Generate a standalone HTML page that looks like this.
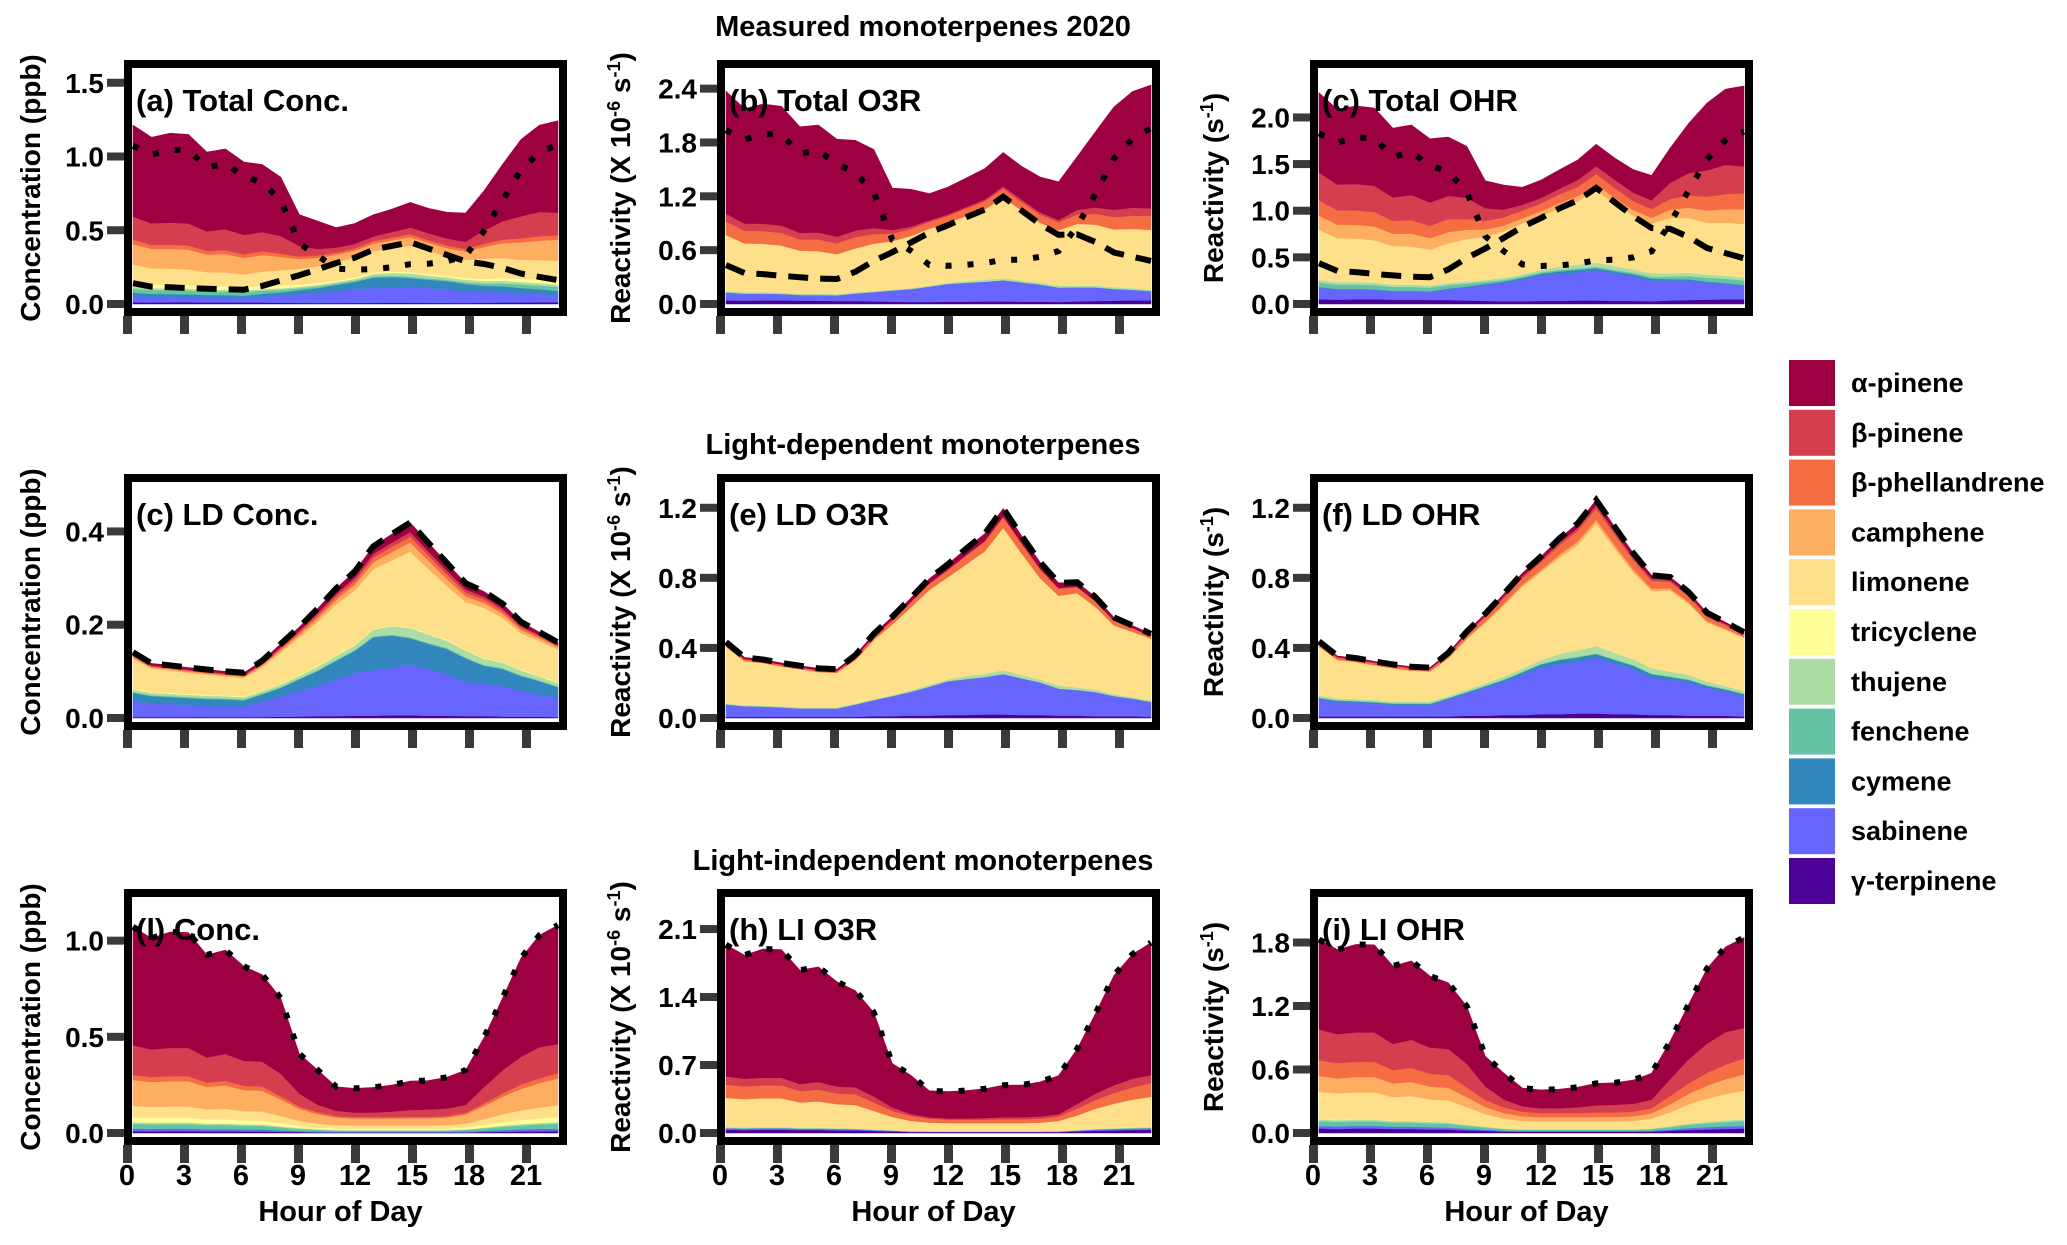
<!DOCTYPE html>
<html><head><meta charset="utf-8"><style>
html,body{margin:0;padding:0;background:#fff;}
svg{display:block;font-family:"Liberation Sans",sans-serif;font-weight:bold;}
</style></head><body>
<svg id="fig" width="2067" height="1245" viewBox="0 0 2067 1245" xmlns="http://www.w3.org/2000/svg"></svg>
<script>
// ---- data ----
const hours = [0,1,2,3,4,5,6,7,8,9,10,11,12,13,14,15,16,17,18,19,20,21,22,23];
const speciesNames = ["γ-terpinene","sabinene","cymene","fenchene","thujene","tricyclene","limonene","camphene","β-phellandrene","β-pinene","α-pinene"];
const speciesColors = ["#4b0096","#6666ff","#3288bd","#66c2a5","#abdda4","#ffff99","#fee08b","#fdae61","#f46d43","#d53e4f","#9e0142"];
// rate factors (conc ppb -> reactivity), same order as speciesNames
const kO3 = [3.4,2.1,0,0.1,1.1,0,5.0,0.02,5.0,0.55,2.2];
const kOH = [4.3,2.9,0.37,1.8,2.1,0.1,4.3,1.1,5.5,1.9,1.38];
// light-dependent concentrations (ppb)
const ldGTerp = [.002,.002,.002,.002,.002,.002,.002,.002,.003,.003,.004,.004,.005,.005,.006,.006,.005,.005,.004,.004,.003,.003,.003,.002];
const ldSabinene = [.034,.029,.028,.026,.023,.023,.023,.034,.044,.055,.065,.079,.092,.098,.102,.110,.100,.089,.074,.070,.066,.055,.048,.041];
const ldCymene = [.018,.016,.015,.015,.016,.015,.013,.015,.018,.025,.032,.040,.047,.070,.069,.055,.054,.054,.050,.038,.036,.032,.028,.023];
const ldFenchene = [.002,.002,.002,.002,.002,.002,.002,.002,.002,.002,.002,.002,.002,.002,.002,.002,.002,.002,.002,.002,.002,.002,.002,.002];
const ldThujene = [.005,.005,.005,.005,.005,.005,.005,.005,.005,.006,.008,.009,.010,.015,.018,.020,.018,.016,.015,.013,.012,.010,.008,.007];
const ldTricyclene = [.0015,.0015,.0015,.0015,.0015,.0015,.0015,.0015,.0015,.0015,.0015,.0015,.0015,.0015,.0015,.0015,.0015,.0015,.0015,.0015,.0015,.0015,.0015,.0015];
const ldLimonene = [.0645,.0505,.0485,.0455,.0435,.0405,.0395,.0495,.0675,.0805,.0945,.1085,.1165,.1275,.1395,.1625,.1385,.1155,.1025,.1075,.0945,.0785,.0745,.0705];
const ldCamphene = [.004,.003,.003,.003,.003,.003,.003,.004,.005,.006,.008,.010,.012,.015,.018,.020,.018,.015,.012,.011,.009,.007,.006,.005];
const ldBPhel = [.003,.002,.002,.002,.002,.002,.002,.003,.004,.005,.006,.007,.008,.010,.011,.012,.011,.010,.008,.007,.006,.005,.004,.003];
const ldBPinene = [.002,.002,.002,.002,.002,.002,.002,.002,.003,.004,.005,.006,.007,.008,.009,.010,.009,.008,.007,.006,.005,.004,.003,.002];
const ldAPinene = [.005,.004,.004,.004,.004,.004,.004,.005,.006,.007,.009,.011,.013,.016,.018,.020,.018,.016,.013,.011,.010,.008,.006,.005];
// light-independent concentrations (ppb)
const liGTerp = [.010,.009,.010,.010,.009,.009,.008,.008,.006,.005,.003,.003,.003,.003,.003,.003,.003,.003,.003,.005,.007,.008,.009,.010];
const liSabinene = [.008,.008,.008,.008,.007,.007,.007,.006,.005,.004,.003,.002,.002,.002,.002,.002,.002,.002,.003,.004,.006,.007,.008,.008];
const liCymene = [.005,.005,.005,.005,.004,.005,.004,.004,.003,.002,.002,.002,.001,.001,.001,.001,.001,.002,.002,.003,.003,.004,.005,.005];
const liFenchene = [.025,.024,.024,.024,.022,.022,.020,.020,.016,.011,.009,.007,.007,.007,.007,.007,.007,.007,.009,.013,.017,.021,.023,.026];
const liThujene = [.008,.008,.008,.008,.007,.007,.007,.006,.005,.004,.003,.002,.002,.002,.002,.002,.002,.002,.003,.004,.006,.007,.008,.008];
const liTricyclene = [.025,.024,.024,.024,.022,.022,.020,.020,.016,.011,.009,.007,.007,.007,.007,.007,.007,.007,.009,.013,.017,.021,.023,.026];
const liLimonene = [.060,.058,.059,.059,.052,.054,.049,.048,.038,.027,.021,.018,.017,.017,.017,.017,.017,.018,.021,.030,.041,.050,.057,.062];
const liCamphene = [.135,.129,.132,.132,.117,.122,.109,.108,.086,.062,.048,.040,.037,.037,.037,.038,.038,.040,.046,.069,.092,.112,.127,.139];
const liBPhel = [.027,.026,.026,.026,.023,.024,.022,.022,.017,.012,.010,.008,.007,.007,.007,.008,.008,.008,.009,.014,.018,.022,.025,.028];
const liBPinene = [.154,.144,.147,.147,.130,.140,.130,.129,.117,.068,.039,.027,.024,.024,.029,.035,.038,.039,.042,.085,.120,.145,.162,.150];
const liAPinene = [.615,.578,.602,.599,.533,.539,.490,.452,.392,.205,.180,.124,.125,.130,.137,.150,.150,.162,.180,.257,.375,.513,.582,.619];
// axis ticks
const ticksA = [0,0.5,1.0,1.5], ticksB = [0,0.6,1.2,1.8,2.4], ticksC = [0,0.5,1.0,1.5,2.0];
const ticksLDc = [0,0.2,0.4], ticksLDr = [0,0.4,0.8,1.2];
const ticksLIc = [0,0.5,1.0], ticksLIo3 = [0,0.7,1.4,2.1], ticksLIoh = [0,0.6,1.2,1.8];
const xTicks = [0,3,6,9,12,15,18,21];

const ldConc = [ldGTerp,ldSabinene,ldCymene,ldFenchene,ldThujene,ldTricyclene,ldLimonene,ldCamphene,ldBPhel,ldBPinene,ldAPinene];
const liConc = [liGTerp,liSabinene,liCymene,liFenchene,liThujene,liTricyclene,liLimonene,liCamphene,liBPhel,liBPinene,liAPinene];

const NS = "http://www.w3.org/2000/svg";
const svg = document.getElementById("fig");
function mk(tag, attrs, parent){
  const e = document.createElementNS(NS, tag);
  for (const k in attrs) e.setAttribute(k, attrs[k]);
  (parent||svg).appendChild(e);
  return e;
}
function scale(set, k){ return set.map((arr,i)=>arr.map(v=>v*k[i])); }
function addSets(a,b){ return a.map((arr,i)=>arr.map((v,j)=>v+b[i][j])); }
function total(set){ return hours.map((h,j)=>set.reduce((s,arr)=>s+arr[j],0)); }

const ldO3 = scale(ldConc,kO3), ldOH = scale(ldConc,kOH);
const liO3 = scale(liConc,kO3), liOH = scale(liConc,kOH);
const totConc = addSets(ldConc,liConc), totO3 = addSets(ldO3,liO3), totOH = addSets(ldOH,liOH);

function fmt(v){ return v.toFixed(1); }

function panel(p){
  const L=p.left, T=p.top, W=443, H=256;
  const iL=L+8, iR=L+W-8, iT=T+8, y0=T+244;
  const g = mk("g",{});
  
  
  const xs = h => iL+1 + h*(iR-iL-2)/23;
  const ys = v => y0 - v*(y0-iT)/p.ymax;
  const clipId = "clip-"+p.name;
  const cp = mk("clipPath",{id:clipId},g);
  mk("rect",{x:iL,y:iT,width:iR-iL,height:T+H-8-iT},cp);
  const dg = mk("g",{"clip-path":"url(#"+clipId+")"},g);
  let base = hours.map(()=>0);
  p.series.forEach((arr,i)=>{
    const top = base.map((b,j)=>b+arr[j]);
    let d = "M"+hours.map((h,j)=>xs(h).toFixed(1)+","+ys(top[j]).toFixed(1)).join("L");
    d += "L"+hours.slice().reverse().map((h)=>xs(h).toFixed(1)+","+ys(base[h]).toFixed(1)).join("L")+"Z";
    const a = mk("path",{d:d,fill:speciesColors[i],stroke:speciesColors[i],"stroke-width":0.6},dg);
    
    
    base = top;
  });
  p.lines.forEach(ln=>{
    const d = "M"+hours.map((h,j)=>xs(h).toFixed(1)+","+ys(ln.vals[j]).toFixed(1)).join("L");
    const l = mk("path",{d:d,fill:"none",stroke:"#000","stroke-width":6,"stroke-dasharray":ln.dash},dg);
    
    
  });
  const fr = mk("rect",{x:L+4,y:T+4,width:W-8,height:H-8,fill:"none",stroke:"#000","stroke-width":8},g);
  
  
  p.ticks.forEach(t=>{
    const y = ys(t);
    const tk = mk("rect",{x:L-17,y:y-4,width:17,height:8,fill:"#3a3a3a"},g);
    
    
    const tl = mk("text",{x:L-20,y:y+10,"text-anchor":"end","font-size":28,fill:"#000"},g);
    tl.textContent = fmt(t);
    
    
  });
  xTicks.forEach(h=>{
    const x = L+3 + h*19;
    const tk = mk("rect",{x:x-4,y:T+H,width:9,height:18,fill:"#3a3a3a"},g);
    
    
    if(p.showX){
      const tl = mk("text",{x:x,y:T+H+40,"text-anchor":"middle","font-size":29,fill:"#000"},g);
      tl.textContent = String(h);
      
      
    }
  });
  if(p.showX){
    const xt = mk("text",{x:L+W/2-5,y:T+H+76,"text-anchor":"middle","font-size":29,fill:"#000"},g);
    xt.textContent = "Hour of Day";
    
    
  }
  const lb = mk("text",{x:L+12,y:T+51,"font-size":31,fill:"#000"},g);
  lb.textContent = p.label;
  
  
}

const colL = [124,717,1310], rowT = [60,474,889];
const dash = "20 12", dot = "6 16";
const cfgs = [
 {name:"panel-a-total-conc",left:colL[0],top:rowT[0],ymax:1.60,ticks:ticksA,label:"(a) Total Conc.",series:totConc,lines:[{vals:total(ldConc),dash:dash,name:"ld-total-line"},{vals:total(liConc),dash:dot,name:"li-total-line"}]},
 {name:"panel-b-total-o3r",left:colL[1],top:rowT[0],ymax:2.63,ticks:ticksB,label:"(b) Total O3R",series:totO3,lines:[{vals:total(ldO3),dash:dash,name:"ld-total-line"},{vals:total(liO3),dash:dot,name:"li-total-line"}]},
 {name:"panel-c-total-ohr",left:colL[2],top:rowT[0],ymax:2.53,ticks:ticksC,label:"(c) Total OHR",series:totOH,lines:[{vals:total(ldOH),dash:dash,name:"ld-total-line"},{vals:total(liOH),dash:dot,name:"li-total-line"}]},
 {name:"panel-ld-conc",left:colL[0],top:rowT[1],ymax:0.506,ticks:ticksLDc,label:"(c) LD Conc.",series:ldConc,lines:[{vals:total(ldConc),dash:dash,name:"ld-total-line"}]},
 {name:"panel-e-ld-o3r",left:colL[1],top:rowT[1],ymax:1.347,ticks:ticksLDr,label:"(e) LD O3R",series:ldO3,lines:[{vals:total(ldO3),dash:dash,name:"ld-total-line"}]},
 {name:"panel-f-ld-ohr",left:colL[2],top:rowT[1],ymax:1.347,ticks:ticksLDr,label:"(f) LD OHR",series:ldOH,lines:[{vals:total(ldOH),dash:dash,name:"ld-total-line"}]},
 {name:"panel-li-conc",left:colL[0],top:rowT[2],ymax:1.227,ticks:ticksLIc,label:"(l) Conc.",series:liConc,lines:[{vals:total(liConc),dash:dot,name:"li-total-line"}],showX:true},
 {name:"panel-h-li-o3r",left:colL[1],top:rowT[2],ymax:2.43,ticks:ticksLIo3,label:"(h) LI O3R",series:liO3,lines:[{vals:total(liO3),dash:dot,name:"li-total-line"}],showX:true},
 {name:"panel-i-li-ohr",left:colL[2],top:rowT[2],ymax:2.23,ticks:ticksLIoh,label:"(i) LI OHR",series:liOH,lines:[{vals:total(liOH),dash:dot,name:"li-total-line"}],showX:true}
];
cfgs.forEach(panel);

// row titles
[["Measured monoterpenes 2020",36],["Light-dependent monoterpenes",454],["Light-independent monoterpenes",870]].forEach(r=>{
  const t = mk("text",{x:923,y:r[1],"text-anchor":"middle","font-size":29,fill:"#000"});
  t.textContent = r[0];
  
  
});
// y-axis titles
rowT.forEach(T=>{
  const cy = T+128;
  const t1 = mk("text",{transform:"translate(40,"+cy+") rotate(-90)","text-anchor":"middle","font-size":28,fill:"#000"});
  t1.textContent = "Concentration (ppb)";
  
  
  const t2 = mk("text",{transform:"translate(630,"+cy+") rotate(-90)","text-anchor":"middle","font-size":28,fill:"#000"});
  t2.innerHTML = 'Reactivity (X 10<tspan dy="-10" font-size="18">-6</tspan><tspan dy="10"> s</tspan><tspan dy="-10" font-size="18">-1</tspan><tspan dy="10">)</tspan>';
  
  
  const t3 = mk("text",{transform:"translate(1223,"+cy+") rotate(-90)","text-anchor":"middle","font-size":28,fill:"#000"});
  t3.innerHTML = 'Reactivity (s<tspan dy="-10" font-size="18">-1</tspan><tspan dy="10">)</tspan>';
  
  
});
// legend (top to bottom: α-pinene first)
const lg = mk("g",{});


for(let k=0;k<speciesNames.length;k++){
  const i = speciesNames.length-1-k;
  const y = 360 + k*49.8;
  const r = mk("rect",{x:1789,y:y,width:46,height:46,fill:speciesColors[i]},lg);
  
  
  const t = mk("text",{x:1851,y:y+32,"font-size":27,fill:"#000"},lg);
  t.textContent = speciesNames[i];
  
  
}
</script>
</body></html>
